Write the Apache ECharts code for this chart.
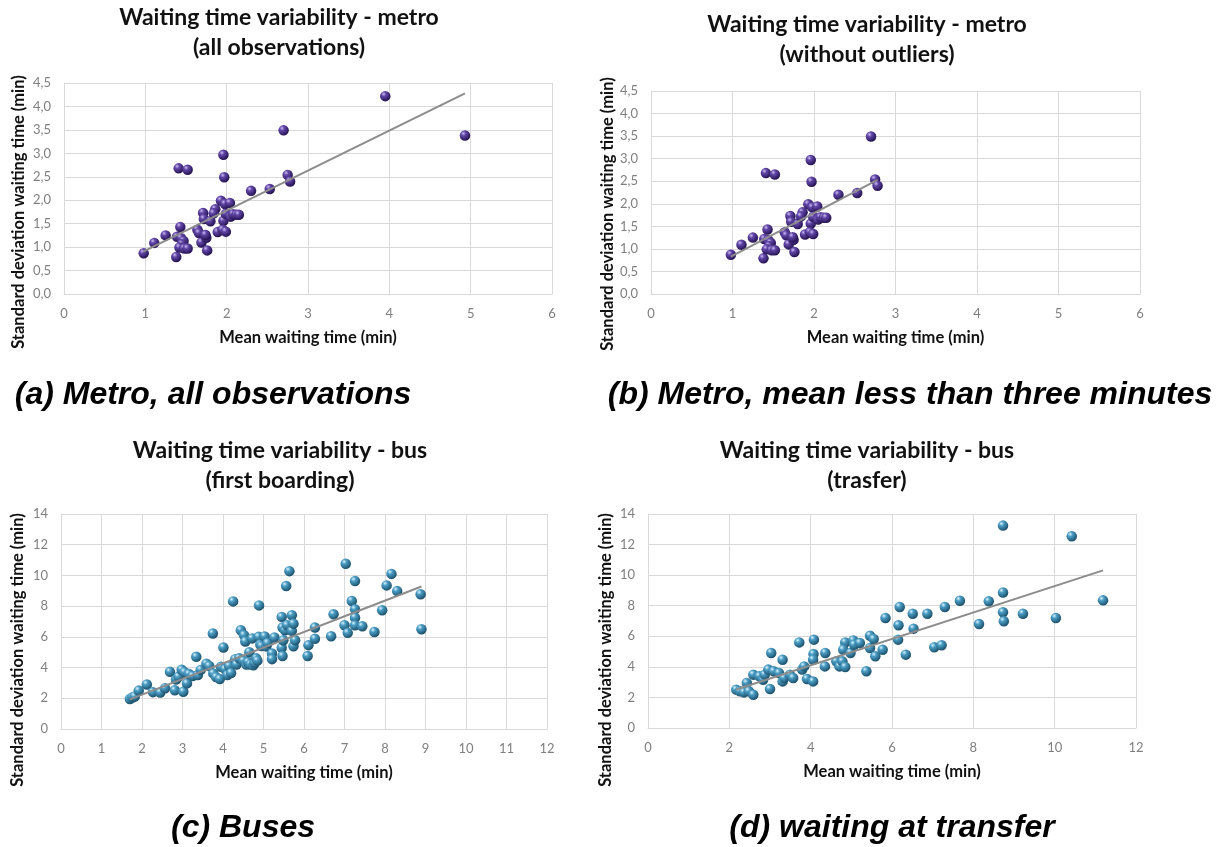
<!DOCTYPE html>
<html>
<head>
<meta charset="utf-8">
<script src="https://cdn.jsdelivr.net/npm/echarts@6/dist/echarts.min.js"></script>
<style>
  html, body { margin: 0; padding: 0; background: #ffffff; }
  #main { width: 1227px; height: 847px; }
</style>
</head>
<body>
<div id="main"></div>
<script>
// Metro observations: [mean waiting time, standard deviation] in minutes
const metroAll = [
  [0.98, 0.87], [1.11, 1.09], [1.25, 1.25], [1.38, 0.79], [1.41, 2.68],
  [1.52, 2.65], [1.43, 1.43], [1.39, 1.22], [1.44, 1.19], [1.47, 1.13],
  [1.45, 1.06], [1.42, 0.99], [1.48, 0.97], [1.52, 0.97], [1.71, 1.73],
  [1.64, 1.37], [1.66, 1.30], [1.69, 1.10], [1.75, 1.20], [1.74, 1.26],
  [1.76, 0.93], [1.72, 1.60], [1.80, 1.55], [1.86, 1.81], [1.84, 1.72],
  [1.89, 1.32], [1.93, 1.99], [1.96, 2.97], [1.97, 2.49], [1.96, 1.56],
  [1.95, 1.37], [1.99, 1.33], [1.98, 1.92], [2.04, 1.94], [1.99, 1.71],
  [2.05, 1.65], [2.08, 1.70], [2.12, 1.69], [2.15, 1.69], [2.30, 2.20],
  [2.53, 2.24], [2.70, 3.49], [2.75, 2.54], [2.78, 2.40], [3.95, 4.22],
  [4.93, 3.38]
];
// Panel (b) keeps only the stations whose mean wait is below three minutes
const metroUnderThree = metroAll.filter(p => p[0] < 3);

// Bus, first boarding
const busFirst = [
  [1.70, 1.95], [1.76, 2.05], [1.82, 2.12], [1.92, 2.50], [2.12, 2.90],
  [2.27, 2.40], [2.45, 2.38], [2.57, 2.65], [2.69, 3.72], [2.81, 2.52],
  [2.84, 3.22], [2.90, 3.40], [2.98, 3.86], [3.02, 2.43], [3.05, 3.70],
  [3.11, 2.97], [3.16, 3.58], [3.25, 3.45], [3.34, 4.70], [3.38, 3.51],
  [3.45, 3.85], [3.59, 4.25], [3.66, 4.10], [3.75, 6.22], [3.76, 3.62],
  [3.83, 3.38], [3.92, 3.25], [3.95, 4.05], [4.01, 5.31], [4.05, 3.90],
  [4.11, 3.51], [4.15, 4.10], [4.20, 3.65], [4.25, 8.31], [4.30, 4.55],
  [4.33, 4.20], [4.40, 4.60], [4.44, 6.43], [4.50, 4.45], [4.52, 6.11],
  [4.55, 5.70], [4.58, 4.20], [4.62, 4.35], [4.65, 5.00], [4.68, 4.20],
  [4.72, 5.90], [4.75, 4.15], [4.78, 4.30], [4.82, 4.60], [4.85, 4.45],
  [4.88, 6.00], [4.89, 8.05], [4.92, 5.50], [4.95, 5.40], [5.03, 6.03],
  [5.07, 5.38], [5.10, 5.60], [5.21, 4.92], [5.21, 4.55], [5.27, 5.96],
  [5.45, 5.29], [5.47, 4.75], [5.45, 7.30], [5.47, 6.61], [5.49, 5.78],
  [5.53, 6.43], [5.56, 9.31], [5.58, 6.76], [5.64, 10.28], [5.70, 7.41],
  [5.70, 6.39], [5.74, 6.86], [5.74, 5.39], [5.78, 5.78], [6.09, 4.75],
  [6.11, 5.46], [6.27, 5.87], [6.27, 6.61], [6.67, 6.04], [6.73, 7.47],
  [7.00, 6.76], [7.03, 10.76], [7.08, 6.26], [7.18, 8.34], [7.26, 9.63],
  [7.26, 7.79], [7.26, 7.25], [7.26, 6.76], [7.44, 6.69], [7.74, 6.32],
  [7.93, 7.73], [8.04, 9.35], [8.16, 10.10], [8.30, 8.98], [8.88, 8.78],
  [8.90, 6.50]
];

// Bus, waiting at transfer
const busTransfer = [
  [2.17, 2.51], [2.26, 2.40], [2.36, 2.33], [2.43, 2.94], [2.48, 2.40],
  [2.59, 2.18], [2.59, 3.49], [2.74, 3.38], [2.83, 3.16], [2.87, 3.49],
  [2.96, 3.82], [3.00, 2.55], [3.03, 4.91], [3.09, 3.71], [3.22, 3.60],
  [3.31, 4.47], [3.31, 3.05], [3.35, 3.27], [3.49, 3.49], [3.57, 3.27],
  [3.72, 5.60], [3.79, 3.82], [3.84, 4.03], [3.91, 3.21], [4.06, 3.05],
  [4.08, 5.78], [4.07, 4.84], [4.06, 4.47], [4.36, 4.91], [4.35, 4.03],
  [4.63, 4.36], [4.71, 4.03], [4.78, 4.36], [4.85, 5.60], [4.85, 3.99],
  [4.80, 5.12], [4.98, 4.91], [5.05, 5.73], [5.07, 5.45], [5.21, 5.56],
  [5.37, 3.71], [5.46, 6.04], [5.46, 5.23], [5.55, 5.82], [5.59, 4.69],
  [5.77, 5.12], [5.84, 7.20], [6.15, 5.78], [6.16, 6.72], [6.19, 7.92],
  [6.34, 4.80], [6.51, 7.48], [6.53, 6.50], [6.87, 7.48], [7.04, 5.28],
  [7.22, 5.41], [7.30, 7.92], [7.67, 8.33], [8.14, 6.80], [8.38, 8.29],
  [8.73, 13.24], [8.73, 8.87], [8.73, 7.57], [8.75, 6.98], [9.22, 7.48],
  [10.03, 7.20], [10.42, 12.54], [11.19, 8.35]
];

// Linear trend lines, drawn between the smallest and largest mean of each set
const trendMetroAll = [[0.98, 0.91], [4.93, 4.28]];
const trendMetroUnderThree = [[0.98, 0.83], [2.78, 2.53]];
const trendBusFirst = [[1.70, 1.93], [8.90, 9.28]];
const trendBusTransfer = [[2.17, 2.52], [11.19, 10.31]];

// Panel texts
const panelTitles = [
  'Waiting time variability - metro\n(all observations)',
  'Waiting time variability - metro\n(without outliers)',
  'Waiting time variability - bus\n(first boarding)',
  'Waiting time variability - bus\n(trasfer)'
];
const captions = [
  '(a) Metro, all observations',
  '(b) Metro, mean less than three minutes',
  '(c) Buses',
  '(d) waiting at transfer'
];
const xName = 'Mean waiting time (min)';
const yName = 'Standard deviation waiting time (min)';

const chart = echarts.init(document.getElementById('main'));

const FONT = 'Lato, "Open Sans", sans-serif';
const gridColor = '#d9d9d9';

const metroBall = new echarts.graphic.RadialGradient(0.35, 0.3, 0.75, [
  { offset: 0, color: '#cbbdf0' },
  { offset: 0.3, color: '#6246a8' },
  { offset: 1, color: '#1f0e48' }
]);
const busBall = new echarts.graphic.RadialGradient(0.35, 0.3, 0.75, [
  { offset: 0, color: '#dff4fb' },
  { offset: 0.3, color: '#4b9ec6' },
  { offset: 1, color: '#184a63' }
]);

const grids = [
  { left: 64, top: 83, width: 488, height: 211 },
  { left: 651, top: 91, width: 489, height: 203 },
  { left: 61, top: 514, width: 486, height: 215 },
  { left: 648, top: 514, width: 488, height: 214 }
];

const axisRanges = [
  { x: [0, 6, 1], y: [0, 4.5, 0.5], dec: true },
  { x: [0, 6, 1], y: [0, 4.5, 0.5], dec: true },
  { x: [0, 12, 1], y: [0, 14, 2], dec: false },
  { x: [0, 12, 2], y: [0, 14, 2], dec: false }
];

const xAxes = axisRanges.map((r, i) => ({
  gridIndex: i, type: 'value',
  min: r.x[0], max: r.x[1], interval: r.x[2],
  axisLine: { show: true, lineStyle: { color: gridColor } },
  axisTick: { show: false },
  splitLine: { show: true, lineStyle: { color: gridColor, width: 1 } },
  axisLabel: { color: '#7f7f7f', fontSize: 13, fontFamily: FONT, margin: 13 },
  name: xName, nameLocation: 'middle', nameGap: 35,
  nameTextStyle: { color: '#111', fontSize: 16.5, fontWeight: 'bold', fontFamily: FONT }
}));

const yAxes = axisRanges.map((r, i) => ({
  gridIndex: i, type: 'value',
  min: r.y[0], max: r.y[1], interval: r.y[2],
  axisLine: { show: true, lineStyle: { color: gridColor } },
  axisTick: { show: false },
  splitLine: { show: true, lineStyle: { color: gridColor, width: 1 } },
  axisLabel: {
    color: '#7f7f7f', fontSize: 13, fontFamily: FONT, margin: 13,
    formatter: v => r.dec ? v.toFixed(1).replace('.', ',') : String(v)
  }
}));

function scatterSeries(i, data, ball) {
  return {
    type: 'scatter', xAxisIndex: i, yAxisIndex: i, data: data,
    symbol: 'circle', symbolSize: 10.5, z: 2,
    itemStyle: { color: ball, opacity: 1 }
  };
}
function trendSeries(i, data) {
  return {
    type: 'line', xAxisIndex: i, yAxisIndex: i, data: data,
    showSymbol: false, silent: true, z: 3,
    lineStyle: { color: '#8c8c8c', width: 2 }
  };
}

const titleCenters = [[279, 3], [867, 10], [280, 436], [867, 436]];
const titles = panelTitles.map((t, i) => ({
  text: t, left: titleCenters[i][0], top: titleCenters[i][1], textAlign: 'center',
  padding: 0,
  textStyle: { fontFamily: FONT, fontSize: 23, fontWeight: 'bold', color: '#111', lineHeight: 30 }
}));

const yNamePos = [[19, 212], [608, 214], [18, 650], [606, 650]];
const capPos = [[213, 395], [910, 395], [243, 828], [892, 828]];

const graphics = [];
yNamePos.forEach(p => graphics.push({
  type: 'text', x: p[0], y: p[1], rotation: Math.PI / 2,
  style: {
    text: yName, fill: '#111', align: 'center', verticalAlign: 'middle',
    font: 'bold 16.5px ' + FONT
  }
}));
captions.forEach((c, i) => graphics.push({
  type: 'text', x: capPos[i][0], y: capPos[i][1],
  style: {
    text: c, fill: '#000', align: 'center', verticalAlign: 'middle',
    font: 'italic bold 32px "Liberation Sans", Arial, sans-serif'
  }
}));

chart.setOption({
  animation: false,
  backgroundColor: '#ffffff',
  title: titles,
  grid: grids,
  xAxis: xAxes,
  yAxis: yAxes,
  graphic: graphics,
  series: [
    scatterSeries(0, metroAll, metroBall), trendSeries(0, trendMetroAll),
    scatterSeries(1, metroUnderThree, metroBall), trendSeries(1, trendMetroUnderThree),
    scatterSeries(2, busFirst, busBall), trendSeries(2, trendBusFirst),
    scatterSeries(3, busTransfer, busBall), trendSeries(3, trendBusTransfer)
  ]
});
</script>
</body>
</html>
